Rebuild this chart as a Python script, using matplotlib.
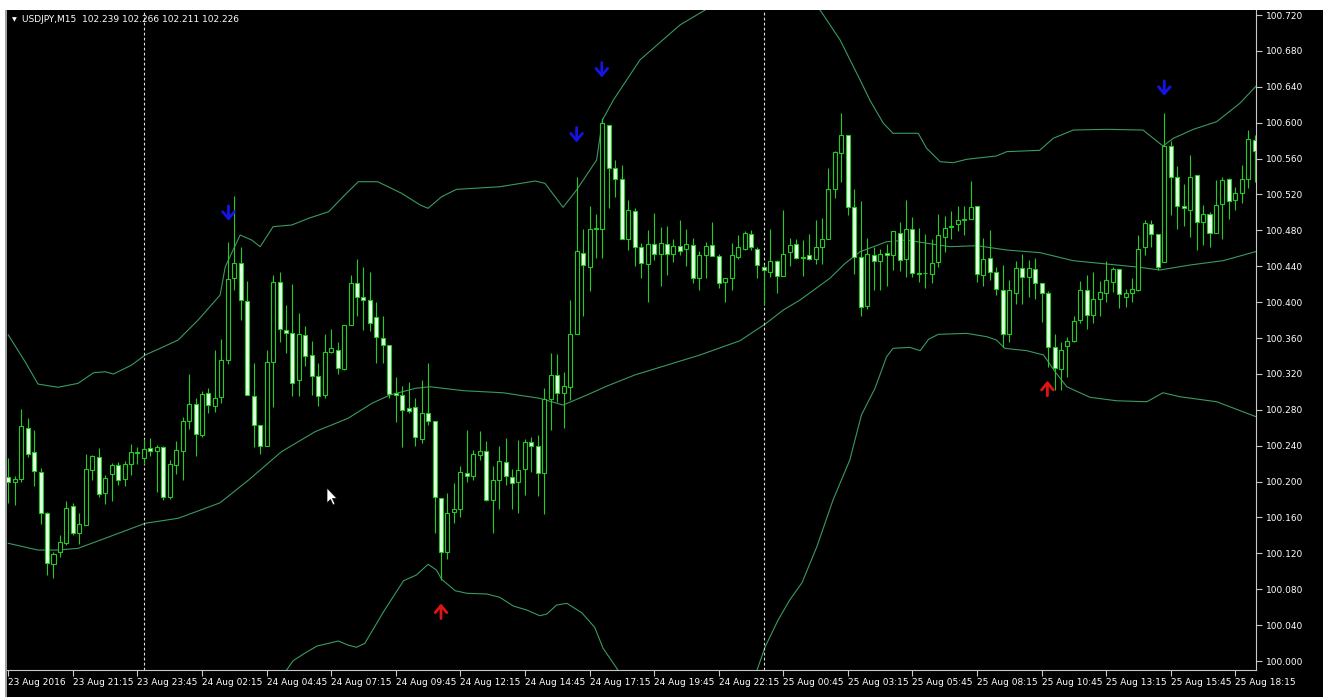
import matplotlib
matplotlib.use('Agg')
import matplotlib.pyplot as plt
import numpy as np
from matplotlib.patches import Rectangle, Polygon

# ---------------- data ----------------
opens = [100.205,100.200,100.203,100.260,100.233,100.211,100.165,100.108,100.122,100.132,
         100.173,100.143,100.152,100.213,100.227,100.187,100.208,100.219,100.203,100.220,
         100.232,100.226,100.237,100.234,100.238,100.183,100.218,100.234,100.268,100.286,
         100.252,100.299,100.284,100.294,100.336,100.427,100.444,100.401,100.295,100.263,
         100.240,100.333,100.422,100.369,100.366,100.313,100.363,100.341,100.318,100.296,
         100.344,100.347,100.325,100.374,100.421,100.406,100.402,100.383,100.360,100.352,
         100.299,100.296,100.282,100.283,100.248,100.276,100.267,100.182,100.121,100.166,
         100.169,100.210,100.206,100.230,100.234,100.179,100.202,100.222,100.205,100.199,
         100.214,100.244,100.240,100.210,100.292,100.319,100.299,100.305,100.364,100.455,
         100.439,100.482,100.482,100.597,100.549,100.537,100.470,100.502,100.462,100.443,
         100.465,100.454,100.465,100.454,100.463,100.459,100.464,100.427,100.453,100.464,
         100.451,100.422,100.427,100.450,100.459,100.476,100.459,100.439,100.434,100.446,
         100.429,100.456,100.465,100.450,100.453,100.448,100.461,100.470,100.526,100.566,
         100.586,100.506,100.450,100.396,100.452,100.446,100.455,100.453,100.477,100.448,
         100.481,100.433,100.432,100.431,100.445,100.473,100.484,100.487,100.492,100.493,
         100.507,100.430,100.449,100.434,100.414,100.365,100.410,100.438,100.428,100.437,
         100.421,100.410,100.350,100.326,100.351,100.357,100.380,100.414,100.386,100.404,
         100.410,100.422,100.437,100.406,100.410,100.413,100.461,100.487,100.476,100.445,
         100.574,100.540,100.507,100.503,100.542,100.489,100.498,100.477,100.509,100.537,
         100.514,100.522,100.537,100.581]
highs = [100.226,100.206,100.281,100.271,100.258,100.215,100.166,100.122,100.141,100.178,
         100.176,100.165,100.231,100.230,100.237,100.207,100.221,100.222,100.223,100.242,
         100.239,100.248,100.249,100.241,100.240,100.224,100.245,100.272,100.320,100.293,
         100.301,100.304,100.347,100.359,100.467,100.518,100.461,100.424,100.332,100.263,
         100.347,100.430,100.434,100.397,100.420,100.388,100.373,100.357,100.332,100.364,
         100.370,100.356,100.374,100.430,100.448,100.439,100.434,100.400,100.384,100.352,
         100.317,100.306,100.311,100.293,100.313,100.332,100.267,100.182,100.187,100.198,
         100.217,100.258,100.235,100.256,100.245,100.217,100.240,100.249,100.214,100.246,
         100.247,100.250,100.252,100.304,100.343,100.342,100.322,100.402,100.540,100.482,
         100.507,100.498,100.605,100.597,100.558,100.553,100.514,100.505,100.466,100.480,
         100.499,100.484,100.485,100.470,100.492,100.482,100.471,100.457,100.467,100.489,
         100.454,100.427,100.466,100.475,100.479,100.480,100.462,100.441,100.482,100.447,
         100.503,100.471,100.470,100.469,100.476,100.491,100.494,100.549,100.569,100.611,
         100.586,100.526,100.513,100.471,100.462,100.459,100.465,100.479,100.489,100.514,
         100.495,100.483,100.476,100.470,100.498,100.496,100.502,100.507,100.507,100.535,
         100.507,100.471,100.480,100.439,100.441,100.425,100.446,100.454,100.447,100.449,
         100.421,100.412,100.365,100.356,100.361,100.384,100.424,100.430,100.434,100.424,
         100.446,100.439,100.437,100.415,100.427,100.475,100.492,100.492,100.476,100.611,
         100.580,100.552,100.532,100.564,100.542,100.508,100.501,100.536,100.540,100.538,
         100.528,100.553,100.592,100.586]
lows = [100.176,100.174,100.200,100.227,100.195,100.153,100.096,100.092,100.116,100.129,
        100.140,100.130,100.152,100.202,100.183,100.175,100.178,100.196,100.195,100.207,
        100.220,100.220,100.228,100.188,100.179,100.181,100.209,100.202,100.259,100.228,
        100.250,100.276,100.278,100.288,100.331,100.414,100.380,100.296,100.239,100.231,
        100.240,100.283,100.356,100.343,100.295,100.295,100.329,100.296,100.284,100.293,
        100.343,100.320,100.324,100.374,100.384,100.369,100.368,100.332,100.332,100.293,
        100.266,100.238,100.276,100.240,100.243,100.263,100.143,100.090,100.114,100.154,
        100.161,100.200,100.202,100.224,100.178,100.143,100.169,100.196,100.169,100.165,
        100.185,100.211,100.184,100.164,100.258,100.289,100.260,100.291,100.364,100.384,
        100.412,100.449,100.449,100.505,100.517,100.470,100.458,100.440,100.427,100.400,
        100.447,100.418,100.430,100.445,100.453,100.440,100.421,100.414,100.427,100.451,
        100.416,100.400,100.413,100.448,100.458,100.458,100.427,100.397,100.428,100.410,
        100.429,100.440,100.448,100.429,100.447,100.443,100.443,100.470,100.516,100.534,
        100.497,100.431,100.385,100.392,100.413,100.413,100.418,100.436,100.435,100.428,
        100.428,100.423,100.416,100.421,100.439,100.456,100.470,100.479,100.475,100.493,
        100.422,100.418,100.425,100.408,100.350,100.356,100.398,100.398,100.406,100.403,
        100.378,100.328,100.302,100.302,100.317,100.356,100.377,100.370,100.377,100.384,
        100.400,100.411,100.393,100.395,100.400,100.412,100.453,100.462,100.436,100.445,
        100.497,100.481,100.485,100.473,100.458,100.464,100.462,100.477,100.470,100.493,
        100.503,100.510,100.527,100.534]
closes = [100.199,100.203,100.262,100.231,100.212,100.165,100.109,100.119,100.133,100.170,
          100.143,100.153,100.214,100.228,100.186,100.204,100.218,100.202,100.220,100.233,
          100.233,100.236,100.234,100.238,100.183,100.220,100.235,100.268,100.286,100.253,
          100.298,100.285,100.293,100.336,100.426,100.444,100.402,100.296,100.263,100.240,
          100.333,100.423,100.370,100.366,100.310,100.364,100.340,100.318,100.295,100.344,
          100.349,100.327,100.374,100.421,100.406,100.402,100.377,100.361,100.352,100.298,
          100.296,100.280,100.279,100.250,100.276,100.268,100.183,100.121,100.165,100.169,
          100.211,100.206,100.231,100.234,100.179,100.202,100.223,100.206,100.198,100.213,
          100.244,100.240,100.210,100.292,100.319,100.299,100.306,100.364,100.457,100.441,
          100.482,100.483,100.600,100.549,100.537,100.470,100.503,100.462,100.444,100.465,
          100.454,100.466,100.454,100.463,100.457,100.465,100.427,100.453,100.463,100.451,
          100.421,100.427,100.453,100.461,100.477,100.461,100.441,100.436,100.446,100.429,
          100.454,100.464,100.449,100.449,100.448,100.462,100.470,100.526,100.567,100.586,
          100.506,100.450,100.395,100.454,100.446,100.454,100.452,100.479,100.447,100.481,
          100.432,100.431,100.432,100.444,100.475,100.483,100.484,100.491,100.492,100.506,
          100.431,100.448,100.434,100.415,100.365,100.414,100.438,100.428,100.438,100.421,
          100.410,100.350,100.327,100.347,100.357,100.379,100.414,100.386,100.404,100.411,
          100.425,100.437,100.409,100.410,100.415,100.459,100.488,100.476,100.439,100.574,
          100.540,100.507,100.505,100.540,100.489,100.498,100.477,100.508,100.536,100.513,
          100.522,100.537,100.582,100.568]

upper_bar = [0, 2.6, 4.6, 7.7, 10.8, 13.2, 15.0, 16.3, 19.1, 21.2, 23.5, 26.3, 29.4, 32.8,
             33.6, 35.9, 37.7, 39.0, 41.0, 43.9, 46.5, 49.6, 52.1, 54.2, 57.2, 60.9, 63.8,
             65.0, 67.1, 69.4, 76.1, 81.6, 83.1, 85.9, 88.0, 91.1, 92.0, 93.7, 97.8, 104.0,
             107.9, 113.0, 118.0, 125.7, 128.8, 131.9, 133.4, 135.5, 137.0, 140.9, 142.2,
             144.3, 146.3, 148.4, 153.0, 154.6, 159.7, 161.8, 164.9, 170.1, 175.7, 177.3,
             178.8, 180.4, 183.5, 187.1, 190.7, 193.5]
upper_val = [100.3634, 100.3336, 100.3087, 100.3051, 100.3095, 100.3213, 100.3224, 100.3199,
             100.3299, 100.3411, 100.3485, 100.3578, 100.3801, 100.4079, 100.4395, 100.4748,
             100.4692, 100.4618, 100.4841, 100.4860, 100.4934, 100.5008, 100.5194, 100.5342,
             100.5342, 100.5213, 100.5082, 100.5046, 100.5175, 100.5257, 100.5286, 100.5350,
             100.5324, 100.5057, 100.5250, 100.5584, 100.6030, 100.6253, 100.6699, 100.7089,
             100.7256, 100.7500, 100.7500, 100.7256, 100.6922, 100.6476, 100.6253, 100.5993,
             100.5882, 100.5882, 100.5714, 100.5565, 100.5554, 100.5592, 100.5629, 100.5677,
             100.5692, 100.5826, 100.5918, 100.5926, 100.5918, 100.5826, 100.5740, 100.5826,
             100.5926, 100.6011, 100.6216, 100.6430]

mid_bar = [0, 4.6, 7.7, 10.8, 15.0, 21.2, 26.3, 30.5, 32.8, 37.2, 42.3, 47.5, 52.6, 56.3,
           59.1, 63.0, 65.3, 70.5, 76.6, 82.3, 85.9, 89.6, 92.7, 97.0, 107.1, 113.3, 117.2,
           120.0, 122.6, 127.2, 129.6, 131.9, 136.0, 139.1, 141.7, 145.8, 150.0, 154.6, 159.8,
           164.9, 170.1, 175.2, 178.3, 183.0, 188.1, 193.5]
mid_val = [100.1312, 100.1237, 100.1237, 100.1256, 100.1368, 100.1535, 100.1591, 100.1702,
           100.1764, 100.2017, 100.2333, 100.2556, 100.2705, 100.2872, 100.2965, 100.3039,
           100.3057, 100.3013, 100.2990, 100.2928, 100.2853, 100.2965, 100.3065, 100.3188,
           100.3411, 100.3570, 100.3756, 100.3912, 100.4024, 100.4265, 100.4433, 100.4562,
           100.4673, 100.4692, 100.4662, 100.4618, 100.4629, 100.4581, 100.4551, 100.4462,
           100.4425, 100.4388, 100.4358, 100.4414, 100.4462, 100.4570]

lower1_bar = [42.1, 43.1, 44.1, 45.7, 47.8, 51.1, 52.6, 53.9, 55.2, 58.1, 61.2, 63.2, 65.0,
              66.3, 67.1, 69.2, 71.0, 74.1, 76.1, 78.2, 80.3, 82.3, 83.4, 84.9, 86.5, 88.8,
              90.8, 92.1, 94.4, 95.5]
lower1_val = [99.973, 99.990, 100.0003, 100.0078, 100.0167, 100.0223, 100.0178, 100.0153,
              100.0197, 100.0549, 100.0895, 100.0959, 100.1078, 100.1014, 100.0911, 100.0784,
              100.0755, 100.0747, 100.0710, 100.0613, 100.0568, 100.0505, 100.0524, 100.0624,
              100.0643, 100.0538, 100.0376, 100.0142, 99.990, 99.973]

lower2_bar = [114.9, 115.9, 117.2, 119.2, 121.0, 122.9, 125.2, 127.7, 130.3, 132.1, 134.2,
              136.0, 137.0, 139.6, 141.2, 142.5, 144.0, 148.4, 151.5, 153.0, 154.3, 157.7,
              160.3, 162.1, 163.9, 167.5, 171.6, 176.3, 178.8, 181.4, 187.1, 193.5]
lower2_val = [99.968, 99.9892, 100.0159, 100.0457, 100.0680, 100.0873, 100.1274, 100.1794,
              100.2240, 100.2742, 100.3039, 100.3392, 100.3485, 100.3496, 100.3459, 100.3586,
              100.3641, 100.3652, 100.3615, 100.3578, 100.3485, 100.3459, 100.3411, 100.3224,
              100.3057, 100.2939, 100.2901, 100.2890, 100.2990, 100.2946, 100.2890, 100.2715]

sell_bar = [34.1, 88.0, 91.9, 179.0]
sell_val = [100.499, 100.5863, 100.6587, 100.6383]
buy_bar = [67.0, 160.9]
buy_val = [100.0557, 100.3040]

separator_bars = [21, 117]
time_tick_bars = list(range(0, 191, 10))
time_tick_labels = ["23 Aug 2016", "23 Aug 21:15", "23 Aug 23:45", "24 Aug 02:15",
                    "24 Aug 04:45", "24 Aug 07:15", "24 Aug 09:45", "24 Aug 12:15",
                    "24 Aug 14:45", "24 Aug 17:15", "24 Aug 19:45", "24 Aug 22:15",
                    "25 Aug 00:45", "25 Aug 03:15", "25 Aug 05:45", "25 Aug 08:15",
                    "25 Aug 10:45", "25 Aug 13:15", "25 Aug 15:45", "25 Aug 18:15"]
price_ticks = [100.000, 100.040, 100.080, 100.120, 100.160, 100.200, 100.240, 100.280,
               100.320, 100.360, 100.400, 100.440, 100.480, 100.520, 100.560, 100.600,
               100.640, 100.680, 100.720]
title_text = "USDJPY,M15  102.239 102.266 102.211 102.226"

# ---------------- drawing ----------------
W, H = 1323, 697
fig = plt.figure(figsize=(W / 100, H / 100), dpi=100, facecolor='black')
plt.rcParams['font.family'] = ['DejaVu Sans']

# window frame (white top strip / left strip)
fig.patches.append(Rectangle((0, 1 - 10 / H), 1, 10 / H, transform=fig.transFigure,
                             facecolor='white', edgecolor='none', zorder=0))
fig.patches.append(Rectangle((0, 0), 5 / W, 1, transform=fig.transFigure,
                             facecolor='white', edgecolor='none', zorder=0))
fig.patches.append(Rectangle((5 / W, 0), 2 / W, 1 - 10 / H, transform=fig.transFigure,
                             facecolor='#a0a0a0', edgecolor='none', zorder=0))

ax = fig.add_axes([7 / W, 27 / H, 1249 / W, 660 / H])
ax.set_facecolor('black')

n = len(opens)
x = np.arange(n)
o = np.array(opens); h = np.array(highs); l = np.array(lows); c = np.array(closes)

edge_col = '#22cc22'
bear_fill = '#e8ffe8'
band_col = '#3a9a60'

ax.vlines(x, l, h, color=edge_col, lw=0.8, zorder=2)
bull = c >= o
bottom = np.minimum(o, c)
height = np.maximum(np.abs(c - o), 0.0004)
ax.bar(x[bull], height[bull], bottom=bottom[bull], width=0.62,
       facecolor='black', edgecolor=edge_col, linewidth=0.8, zorder=3)
ax.bar(x[~bull], height[~bull], bottom=bottom[~bull], width=0.62,
       facecolor=bear_fill, edgecolor=edge_col, linewidth=0.8, zorder=3)

ax.plot(upper_bar, upper_val, color=band_col, lw=0.8, zorder=1)
ax.plot(mid_bar, mid_val, color=band_col, lw=0.8, zorder=1)
ax.plot(lower1_bar, lower1_val, color=band_col, lw=0.8, zorder=1)
ax.plot(lower2_bar, lower2_val, color=band_col, lw=0.8, zorder=1)

for sb in separator_bars:
    ax.axvline(sb, color='#e0e0e0', lw=0.8, ls=(0, (2.5, 2.0)), zorder=1.5)

# signal arrows (about 15 px tall, thick stroke)
half = 7.5 / 897.2
arrow_style = '->,head_length=0.5,head_width=0.42'
for xb, yv in zip(sell_bar, sell_val):
    ax.annotate('', xy=(xb, yv - half), xytext=(xb, yv + half),
                arrowprops=dict(arrowstyle=arrow_style, color='#1414e6', lw=2.0,
                                shrinkA=0, shrinkB=0, mutation_scale=10),
                zorder=5, annotation_clip=False)
for xb, yv in zip(buy_bar, buy_val):
    ax.annotate('', xy=(xb, yv + half), xytext=(xb, yv - half),
                arrowprops=dict(arrowstyle=arrow_style, color='#e01414', lw=2.0,
                                shrinkA=0, shrinkB=0, mutation_scale=10),
                zorder=5, annotation_clip=False)

ax.set_xlim(-0.2, 193.2)
ax.set_ylim(99.990, 100.7256)

ax.set_xticks(time_tick_bars)
ax.set_xticklabels(time_tick_labels, ha='left', fontsize=6.5, color='white')
ax.tick_params(axis='x', length=4, width=0.8, color='#c8c8c8', pad=2)

ax.yaxis.tick_right()
ax.set_yticks(price_ticks)
ax.set_yticklabels(['%.3f' % p for p in price_ticks], fontsize=6.5, color='white')
ax.tick_params(axis='y', length=4, width=0.8, color='#c8c8c8', pad=3)

for side in ['top', 'left']:
    ax.spines[side].set_visible(False)
for side in ['right', 'bottom']:
    ax.spines[side].set_color('#c8c8c8')
    ax.spines[side].set_linewidth(0.8)

# title
fig.text(12 / W, 1 - 20 / H, '\u25bc', fontsize=4.5, color='white', va='center', ha='left')
fig.text(22 / W, 1 - 20 / H, title_text, fontsize=6.5, color='white', va='center', ha='left')

# mouse pointer
tip_x, tip_y = 327, 488
pts = [(0, 0), (0, 15), (3.5, 11.5), (6, 17), (8, 16), (5.5, 10.5), (10, 10.5)]
fig.patches.append(Polygon([((tip_x + px) / W, 1 - (tip_y + py) / H) for px, py in pts],
                           closed=True, transform=fig.transFigure, facecolor='white',
                           edgecolor='black', linewidth=0.5, zorder=10))

fig.savefig('out.png', dpi=100, facecolor=fig.get_facecolor())
